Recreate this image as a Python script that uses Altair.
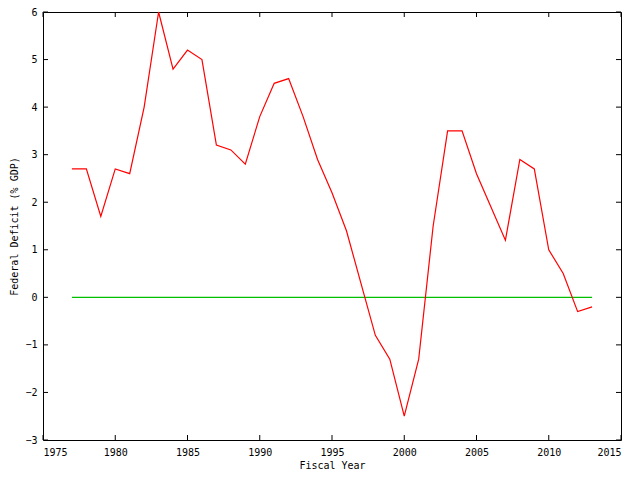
import altair as alt
import pandas as pd

years = list(range(1977, 2014))
deficit = [2.7, 2.7, 1.7, 2.7, 2.6, 4.0, 6.0, 4.8, 5.2, 5.0,
           3.2, 3.1, 2.8, 3.8, 4.5, 4.6, 3.8, 2.9, 2.2, 1.4,
           0.3, -0.8, -1.3, -2.5, -1.3, 1.5, 3.5, 3.5, 2.6, 1.9,
           1.2, 2.9, 2.7, 1.0, 0.5, -0.3, -0.2]
zero_years = [1977, 2013]
zero_vals = [0, 0]
x_ticks = [1975, 1980, 1985, 1990, 1995, 2000, 2005, 2010, 2015]
y_ticks = [-3, -2, -1, 0, 1, 2, 3, 4, 5, 6]

W, H = 578, 428
TL = 5
FONT = "DejaVu Sans Mono"

df = pd.DataFrame({"year": years, "deficit": deficit})
dz = pd.DataFrame({"year": zero_years, "v": zero_vals})
dxt = pd.DataFrame({"t": x_ticks})
dyt = pd.DataFrame({"t": y_ticks})

xs = alt.Scale(domain=[1975, 2015], nice=False, zero=False)
ys = alt.Scale(domain=[-3, 6], nice=False, zero=False)

xaxis = alt.Axis(values=x_ticks, format="d", title="Fiscal Year", labelPadding=7,
                 titleX=W / 2, titleY=25, titleBaseline="middle", titleAlign="center")
yaxis = alt.Axis(values=y_ticks, format="d", title="Federal Deficit (% GDP)", labelPadding=6,
                 titleX=-29, titleY=H / 2, titleBaseline="middle", titleAlign="center",
                 titleAngle=270)

line = alt.Chart(df).mark_line(color="#ff0000", strokeWidth=1.2).encode(
    x=alt.X("year:Q", scale=xs, axis=xaxis),
    y=alt.Y("deficit:Q", scale=ys, axis=yaxis),
)

zero = alt.Chart(dz).mark_line(color="#00c000", strokeWidth=1.2).encode(
    x=alt.X("year:Q", scale=xs),
    y=alt.Y("v:Q", scale=ys),
)

xt_bottom = alt.Chart(dxt).mark_rule(color="black", strokeWidth=1).encode(
    x=alt.X("t:Q", scale=xs), y=alt.value(H - TL), y2=alt.value(H))
xt_top = alt.Chart(dxt).mark_rule(color="black", strokeWidth=1).encode(
    x=alt.X("t:Q", scale=xs), y=alt.value(0), y2=alt.value(TL))
yt_left = alt.Chart(dyt).mark_rule(color="black", strokeWidth=1).encode(
    y=alt.Y("t:Q", scale=ys), x=alt.value(0), x2=alt.value(TL))
yt_right = alt.Chart(dyt).mark_rule(color="black", strokeWidth=1).encode(
    y=alt.Y("t:Q", scale=ys), x=alt.value(W - TL), x2=alt.value(W))

chart = alt.layer(zero, line, xt_bottom, xt_top, yt_left, yt_right).properties(
    width=W, height=H,
    autosize=alt.AutoSizeParams(type="none"),
    padding={"left": 35, "top": 4, "right": 11, "bottom": 32},
    background="white",
).configure_view(
    stroke="black", strokeWidth=1
).configure_axis(
    grid=False, domain=False, ticks=False,
    labelFont=FONT, labelFontSize=10, labelColor="black",
    titleFont=FONT, titleFontSize=10, titleFontWeight="normal", titleColor="black",
)

chart.save("out.html", embed_options={"renderer": "svg", "actions": False})
